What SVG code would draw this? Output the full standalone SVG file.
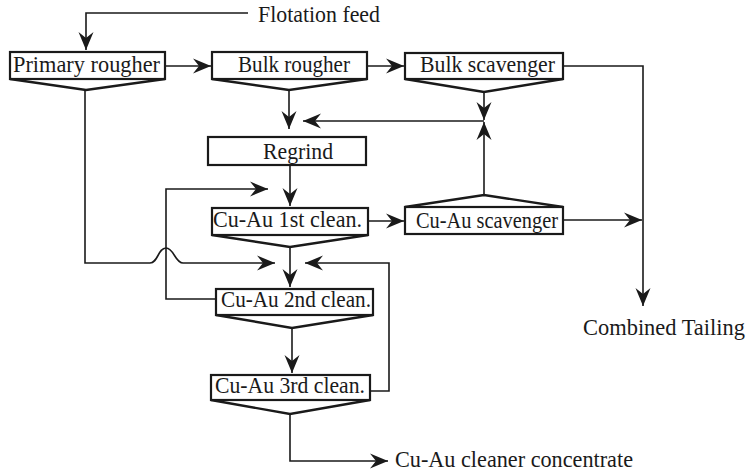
<svg xmlns="http://www.w3.org/2000/svg" width="748" height="473" viewBox="0 0 748 473">
<style>
text{font-family:"Liberation Serif","Times New Roman",serif;font-size:22.5px;fill:#1a1a1a}
.box{fill:#fff;stroke:#1a1a1a;stroke-width:2.2}
.v{fill:none;stroke:#1a1a1a;stroke-width:2.4;stroke-linejoin:miter}
.c{fill:none;stroke:#1a1a1a;stroke-width:1.6}
.a{marker-end:url(#arr)}
</style>
<defs>
<marker id="arr" viewBox="-19 -8.5 20 17" refX="0" refY="0" markerWidth="20" markerHeight="17" markerUnits="userSpaceOnUse" orient="auto">
<path d="M0,0 L-18,-7.5 L-12,0 L-18,7.5 Z" fill="#1a1a1a"/>
</marker>
</defs>
<rect width="748" height="473" fill="#fff"/>
<g id="connectors">
<path class="c a" d="M248,13 H86 V50"/>
<path class="c a" d="M165,66 H211"/>
<path class="c a" d="M367,66 H404"/>
<path class="c a" d="M289,90 V129"/>
<path class="c a" d="M484,92 V120"/>
<path class="c a" d="M484,195 V122"/>
<path class="c a" d="M484,121 H303"/>
<path class="c a" d="M563,66 H643 V306"/>
<path class="c a" d="M563,220 H642"/>
<path class="c a" d="M290,165 V206"/>
<path class="c a" d="M368,221 H404"/>
<path class="c a" d="M216,299 H166 V189 H268"/>
<path class="c a" d="M290,247 V287"/>
<path class="c a" d="M85,90 V263 H150 C158,263 158,248 166,248 C174,248 175,263 183,263 H275"/>
<path class="c a" d="M370,391 H389 V263 H305"/>
<path class="c a" d="M292,328 V373"/>
<path class="c a" d="M290,414 V461 H388"/>
</g>
<g id="primary-rougher">
<rect class="box" x="10" y="52" width="155" height="27"/>
<path class="v" d="M10,79 L86,90 L165,79"/>
<text x="13" y="72" textLength="147" lengthAdjust="spacingAndGlyphs">Primary rougher</text>
</g>
<g id="bulk-rougher">
<rect class="box" x="212" y="52" width="155" height="27"/>
<path class="v" d="M212,79 L289,90 L367,79"/>
<text x="238" y="72" textLength="112" lengthAdjust="spacingAndGlyphs">Bulk rougher</text>
</g>
<g id="bulk-scavenger">
<rect class="box" x="405" y="53" width="158" height="26"/>
<path class="v" d="M405,79 L484,92 L563,79"/>
<text x="420" y="72" textLength="135" lengthAdjust="spacingAndGlyphs">Bulk scavenger</text>
</g>
<g id="regrind">
<rect class="box" x="208" y="137" width="158" height="28"/>
<text x="263" y="159" textLength="70" lengthAdjust="spacingAndGlyphs">Regrind</text>
</g>
<g id="cu-au-1st-clean">
<rect class="box" x="212" y="208" width="156" height="27"/>
<path class="v" d="M212,235 L290,247 L368,235"/>
<text x="213" y="227" textLength="149" lengthAdjust="spacingAndGlyphs">Cu-Au 1st clean.</text>
</g>
<g id="cu-au-scavenger">
<rect class="box" x="405" y="207" width="158" height="27"/>
<path class="v" d="M405,207 L484,195 L563,207"/>
<text x="416" y="228" textLength="142" lengthAdjust="spacingAndGlyphs">Cu-Au scavenger</text>
</g>
<g id="cu-au-2nd-clean">
<rect class="box" x="216" y="289" width="157" height="26"/>
<path class="v" d="M216,315 L292,328 L373,315"/>
<text x="221" y="307" textLength="150" lengthAdjust="spacingAndGlyphs">Cu-Au 2nd clean.</text>
</g>
<g id="cu-au-3rd-clean">
<rect class="box" x="211" y="375" width="159" height="25"/>
<path class="v" d="M211,400 L290,414 L370,400"/>
<text x="215" y="393" textLength="150" lengthAdjust="spacingAndGlyphs">Cu-Au 3rd clean.</text>
</g>
<g id="labels">
<text x="258" y="22" textLength="122" lengthAdjust="spacingAndGlyphs">Flotation feed</text>
<text x="583" y="335" textLength="162" lengthAdjust="spacingAndGlyphs">Combined Tailing</text>
<text x="395" y="467" textLength="238" lengthAdjust="spacingAndGlyphs">Cu-Au cleaner concentrate</text>
</g>
</svg>
